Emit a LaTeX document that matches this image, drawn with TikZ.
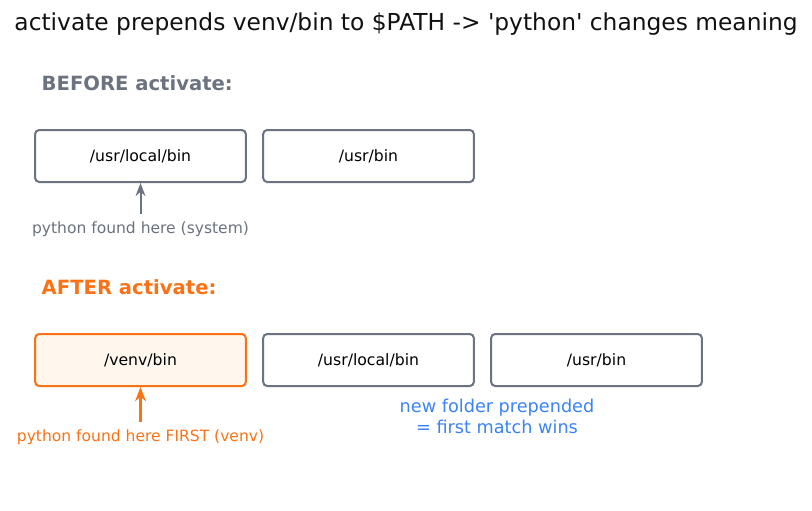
\documentclass[tikz,border=0pt]{standalone}
\usepackage{fontspec}
\setmainfont{DejaVu Sans}
\usetikzlibrary{arrows.meta,positioning}
\definecolor{slate}{HTML}{6B7280}
\definecolor{venvorange}{HTML}{F97316}
\definecolor{venvfill}{HTML}{FFF7ED}
\definecolor{noteblue}{HTML}{3B82F6}
\definecolor{titleink}{HTML}{111111}
\tikzset{
  dirbox/.style={draw=slate,line width=1.5pt,rounded corners=3pt,fill=white,
    minimum width=158pt,minimum height=39pt,inner sep=0pt,font=\fontsize{11.75}{14}\selectfont},
  venvbox/.style={dirbox,draw=venvorange,fill=venvfill},
  heading/.style={anchor=west,font=\fontsize{14.7}{17}\selectfont\bfseries},
  note/.style={font=\fontsize{11.65}{14}\selectfont,inner sep=1pt}
}
\begin{document}
\begin{tikzpicture}[x=0.75pt,y=-0.75pt,>=Stealth,node distance=11.5pt]
\useasboundingbox (0,0) rectangle (812,510);
% title
\node[titleink,font=\fontsize{17.5}{20}\selectfont] (title) at (406,24) {activate prepends venv/bin to \$PATH -> \textquotesingle python\textquotesingle{} changes meaning};
% before
\node[heading,slate] (before) at (37,83) {BEFORE activate:};
\node[dirbox] (b1) at (140.5,156) {/usr/local/bin};
\node[dirbox,right=of b1] (b2) {/usr/bin};
\node[note,slate] (sys) at (140.5,229) {python found here (system)};
\draw[->,slate,line width=1.5pt] ([yshift=4.5pt]sys.north) -- (b1.south);
% after
\node[heading,venvorange] (after) at (37,287) {AFTER activate:};
\node[venvbox] (a1) at (140.5,360) {/venv/bin};
\node[dirbox,right=of a1] (a2) {/usr/local/bin};
\node[dirbox,right=of a2] (a3) {/usr/bin};
\node[note,venvorange] (first) at (140.5,437) {python found here FIRST (venv)};
\draw[->,venvorange,line width=1.7pt] ([yshift=4.5pt]first.north) -- (a1.south);
\node[noteblue,align=center,font=\fontsize{13.25}{16}\selectfont] (wins) at (497,416.5) {new folder prepended\\= first match wins};
\end{tikzpicture}
\end{document}
